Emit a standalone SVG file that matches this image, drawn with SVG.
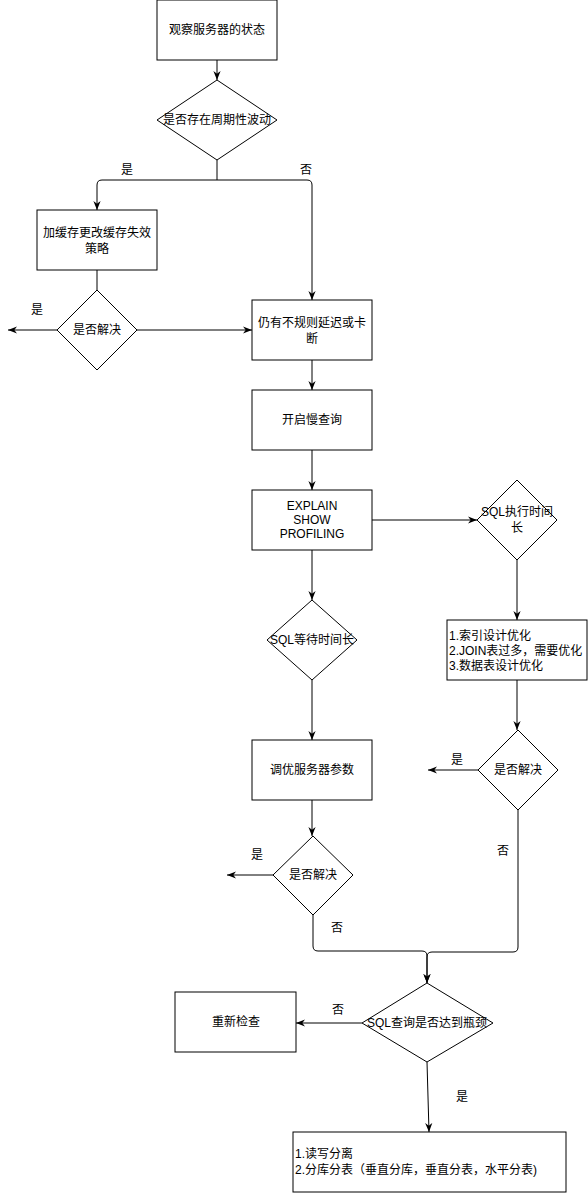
<svg xmlns="http://www.w3.org/2000/svg" width="588" height="1193" viewBox="0 0 588 1193">
<style>
.n{fill:#fff;stroke:#000;stroke-width:1}
.t{font-family:"Liberation Sans","Noto Sans CJK SC",sans-serif;font-size:12px;fill:#000;text-anchor:middle;dominant-baseline:central}
.l{text-anchor:start}
.e{fill:none;stroke:#000;stroke-width:1}
.a{marker-end:url(#arr)}
</style>
<defs>
<marker id="arr" viewBox="0 0 10 10" refX="10" refY="5" markerWidth="9" markerHeight="9" markerUnits="userSpaceOnUse" orient="auto">
<path d="M0,1 L10,5 L0,9 L3,5 Z" fill="#000"/>
</marker>
</defs>
<rect width="588" height="1193" fill="#fff"/>
<g id="connectors">
<path class="e a" d="M217,60 V80"/>
<path class="e a" d="M217,160 V180 H102 Q97,180 97,185 V210"/>
<path class="e a" d="M217,180 H307 Q312,180 312,185 V300"/>
<path class="e" d="M97,270 V290"/>
<path class="e a" d="M57,330 H8"/>
<path class="e a" d="M137,330 H252"/>
<path class="e a" d="M312,360 V390"/>
<path class="e a" d="M312,450 V490"/>
<path class="e a" d="M372,520 H477"/>
<path class="e a" d="M312,550 V600"/>
<path class="e a" d="M517,560 V620"/>
<path class="e a" d="M312,680 V740"/>
<path class="e a" d="M312,800 V836"/>
<path class="e a" d="M273,875 H227"/>
<path class="e a" d="M313,915 V946 Q313,951 318,951 H422 Q427,951 427,956 V983"/>
<path class="e a" d="M517,680 V730"/>
<path class="e a" d="M478,770 H428"/>
<path class="e a" d="M518,810 V947 Q518,952 513,952 H432 Q427,952 427,957 V983"/>
<path class="e a" d="M362,1023 H296"/>
<path class="e a" d="M427,1062 L429,1132"/>
<text class="t" x="127" y="170">是</text>
<text class="t" x="306" y="170">否</text>
<text class="t" x="37" y="310">是</text>
<text class="t" x="457" y="760">是</text>
<text class="t" x="503" y="851">否</text>
<text class="t" x="257" y="855">是</text>
<text class="t" x="337" y="928">否</text>
<text class="t" x="338" y="1010">否</text>
<text class="t" x="462" y="1097">是</text>
</g>
<g id="n1"><rect class="n" x="157" y="0" width="120" height="60"/><text class="t" x="217" y="30">观察服务器的状态</text></g>
<g id="n2"><polygon class="n" points="217,80 277,120 217,160 157,120"/><text class="t" x="217" y="120">是否存在周期性波动</text></g>
<g id="n3"><rect class="n" x="37" y="210" width="120" height="60"/><text class="t" x="97" y="233">加缓存更改缓存失效</text><text class="t" x="97" y="249">策略</text></g>
<g id="n4"><polygon class="n" points="97,290 137,330 97,370 57,330"/><text class="t" x="97" y="330">是否解决</text></g>
<g id="n5"><rect class="n" x="252" y="300" width="120" height="60"/><text class="t" x="312" y="323">仍有不规则延迟或卡</text><text class="t" x="312" y="339">断</text></g>
<g id="n6"><rect class="n" x="252" y="390" width="120" height="60"/><text class="t" x="312" y="420">开启慢查询</text></g>
<g id="n7"><rect class="n" x="252" y="490" width="120" height="60"/><text class="t" x="312" y="506">EXPLAIN</text><text class="t" x="312" y="520">SHOW</text><text class="t" x="312" y="534">PROFILING</text></g>
<g id="n8"><polygon class="n" points="517,480 557,520 517,560 477,520"/><text class="t" x="517" y="512">SQL执行时间</text><text class="t" x="517" y="528">长</text></g>
<g id="n9"><rect class="n" x="447" y="620" width="140" height="60"/><text class="t l" x="449" y="636">1.索引设计优化</text><text class="t l" x="449" y="651">2.JOIN表过多，需要优化</text><text class="t l" x="449" y="666">3.数据表设计优化</text></g>
<g id="n10"><polygon class="n" points="312,600 357,640 312,680 267,640"/><text class="t" x="312" y="640">SQL等待时间长</text></g>
<g id="n11"><rect class="n" x="252" y="740" width="120" height="60"/><text class="t" x="312" y="770">调优服务器参数</text></g>
<g id="n12"><polygon class="n" points="313,836 353,875 313,915 273,875"/><text class="t" x="313" y="875">是否解决</text></g>
<g id="n13"><polygon class="n" points="518,730 558,770 518,810 478,770"/><text class="t" x="518" y="770">是否解决</text></g>
<g id="n14"><polygon class="n" points="427,983 493,1023 427,1062 362,1023"/><text class="t" x="427" y="1023">SQL查询是否达到瓶颈</text></g>
<g id="n15"><rect class="n" x="175" y="992" width="121" height="60"/><text class="t" x="236" y="1022">重新检查</text></g>
<g id="n16"><rect class="n" x="293" y="1132" width="273" height="60"/><text class="t l" x="295" y="1154">1.读写分离</text><text class="t l" x="295" y="1170">2.分库分表（垂直分库，垂直分表，水平分表)</text></g>
</svg>
